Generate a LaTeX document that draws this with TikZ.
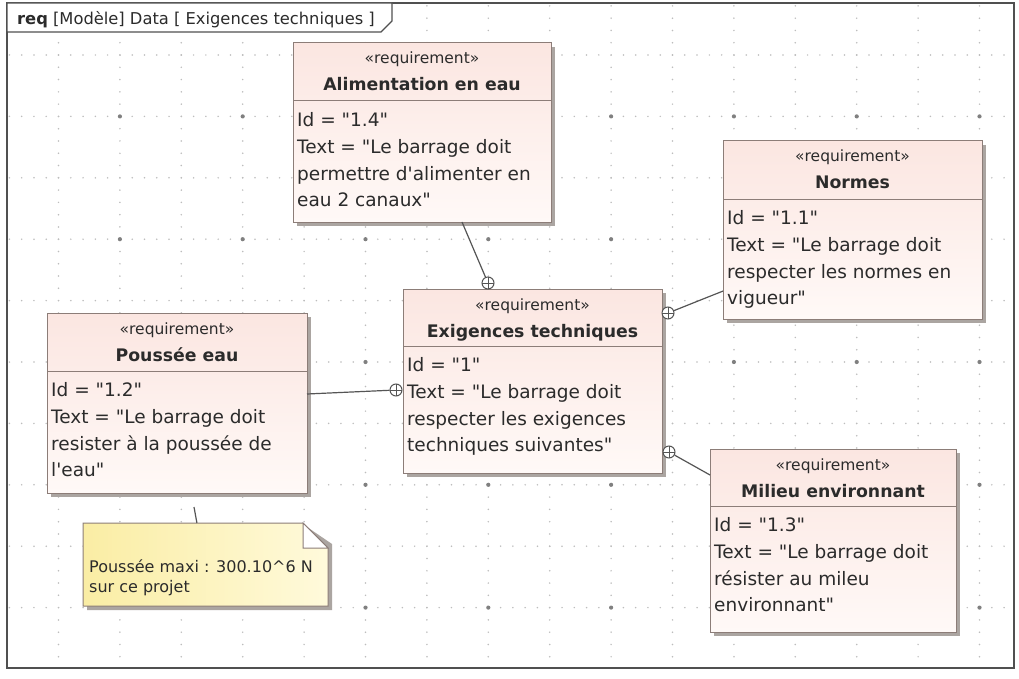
\documentclass[tikz,border=0pt]{standalone}
\usepackage{fontspec}
\setmainfont{DejaVu Sans}
\newfontfamily\dvs{DejaVu Sans}
\usetikzlibrary{calc}
\definecolor{txt}{HTML}{2B2B2B}
\definecolor{bord}{HTML}{8C7D78}
\definecolor{shad}{HTML}{ABA5A1}
\definecolor{rtop}{HTML}{FBE6E1}
\definecolor{rbot}{HTML}{FFF9F7}
\definecolor{ntl}{HTML}{FAEDA4}
\definecolor{ntr}{HTML}{FFFADB}
\definecolor{gridc}{HTML}{BDBDBD}
\definecolor{bigdot}{HTML}{808080}
\definecolor{conc}{HTML}{555555}
\definecolor{framec}{HTML}{505050}
\tikzset{
  reqshape/.style={rectangle, draw=bord, line width=1pt, top color=rtop, bottom color=rbot, inner sep=0pt, outer sep=0pt},
  stereo/.style={text=txt, inner sep=0pt, font=\dvs\fontsize{15.5}{18}\selectfont},
  rname/.style={text=txt, inner sep=0pt, font=\dvs\bfseries\fontsize{17.3}{20}\selectfont},
  rbody/.style={text=txt, inner sep=0pt, align=left, font=\dvs\fontsize{18.5}{26.7}\selectfont},
  gridline/.style={gridc, line width=1.7pt, line cap=round, dash pattern=on 0pt off 12.28pt},
  contain/.style={circle, draw=conc, fill=white, line width=1pt, minimum size=12pt, inner sep=0pt,
    path picture={\draw[conc, line width=0.8pt] (path picture bounding box.north) -- (path picture bounding box.south)
      (path picture bounding box.west) -- (path picture bounding box.east);}},
  conn/.style={conc, line width=1.2pt},
  notetxt/.style={text=txt, inner sep=0pt, align=left, font=\dvs\fontsize{16}{20}\selectfont},
}
% #1 name, #2 left, #3 top, #4 right, #5 bottom, #6 divider, #7 title, #8 body
\newcommand{\reqbox}[8]{%
  \fill[shad] ({#2+4},{#3+4}) rectangle ({#4+4},{#5+4});
  \node[reqshape, minimum width={(#4-#2)*1pt}, minimum height={(#5-#3)*1pt}, anchor=north west] (#1) at (#2,#3) {};
  \draw[bord, line width=1pt] (#2,#6) -- (#4,#6);
  \node[stereo, anchor=base] (#1-st) at ({(#2+#4)/2},{#3+21}) {«requirement»};
  \node[rname, anchor=base] (#1-nm) at ({(#2+#4)/2},{#3+48}) {#7};
  \node[rbody, anchor=north west] (#1-bd) at ({#2+4},{#6+10.5}) {\rule{0pt}{15pt}#8};
}
\begin{document}
\begin{tikzpicture}[x=1pt, y=-1pt]
\useasboundingbox (0,0) rectangle (1019,679);
\fill[white] (0,0) rectangle (1019,679);
% grid
\foreach \k in {0,...,9} { \draw[gridline] (9.4,{55+61.4*\k}) -- (1012,{55+61.4*\k}); }
\foreach \k in {0,...,15} { \draw[gridline] ({58.5+61.4*\k},5.9) -- ({58.5+61.4*\k},666); }
\foreach \i in {1,3,...,15} { \foreach \j in {1,3,5,7,9} { \fill[bigdot] ({58.5+61.4*\i},{55+61.4*\j}) circle (2.1); } }
% frame
\draw[framec, line width=1.5pt] (7,3) rectangle (1014,668);
\draw[framec, line width=1.2pt, fill=white] (7,3) -- (392,3) -- (392,21) -- (381,32) -- (7,32) -- cycle;
\node[anchor=base west, inner sep=0pt, text=txt, font=\dvs\fontsize{16.3}{19}\selectfont] (title) at (17,25)
  {\textbf{req} [Modèle] Data [ Exigences techniques ]};
% requirement boxes
\reqbox{alim}{293}{43}{551}{222}{101}{Alimentation en eau}{Id = "1.4"\\Text = "Le barrage doit\\permettre d'alimenter en\\eau 2 canaux"}
\reqbox{norm}{723}{141}{982}{319}{199}{Normes}{Id = "1.1"\\Text = "Le barrage doit\\respecter les normes en\\vigueur"}
\reqbox{exig}{403}{289}{662}{473}{346}{Exigences techniques}{Id = "1"\\Text = "Le barrage doit\\respecter les exigences\\techniques suivantes"}
\reqbox{pous}{47}{313}{307}{493}{371}{Poussée eau}{Id = "1.2"\\Text = "Le barrage doit\\resister à la poussée de\\l'eau"}
\reqbox{mil}{710}{449}{956}{632}{506}{Milieu environnant}{Id = "1.3"\\Text = "Le barrage doit\\résister au mileu\\environnant"}
% note
\node[anchor=north west, minimum width=245pt, minimum height=83pt, inner sep=0pt, outer sep=0pt] (note) at (83,523) {};
\fill[shad] ([xshift=4pt,yshift=-4pt]note.north west) -- ([xshift=-21pt,yshift=-4pt]note.north east) -- ([xshift=4pt,yshift=-21pt]note.north east) -- ([xshift=4pt,yshift=-4pt]note.south east) -- ([xshift=4pt,yshift=-4pt]note.south west) -- cycle;
\draw[bord, line width=1pt, left color=ntl, right color=ntr] (note.north west) -- ([xshift=-25pt]note.north east) -- ([yshift=-25pt]note.north east) -- (note.south east) -- (note.south west) -- cycle;
\draw[bord, line width=1pt, fill=white] ([xshift=-25pt]note.north east) |- ([yshift=-25pt]note.north east) -- cycle;
\node[notetxt, anchor=north west] (notet) at (89,559) {\rule{0pt}{13pt}Poussée maxi : 300.10\textasciicircum 6 N\\sur ce projet};
% containment connectors
\node[contain] (c1) at (488,283) {};
\node[contain] (c2) at (668,313) {};
\node[contain] (c3) at (396,390) {};
\node[contain] (c4) at (669,452) {};
\draw[conn] ($(alim.south west)!0.655!(alim.south east)$) -- (c1);
\draw[conn] ($(norm.north west)!0.843!(norm.south west)$) -- (c2);
\draw[conn] ($(pous.north east)!0.45!(pous.south east)$) -- (c3);
\draw[conn] ($(mil.north west)!0.142!(mil.south west)$) -- (c4);
% note anchor
\coordinate (nl) at (194,507);
\draw[conn] (nl) -- ($(note.north west)!0.465!(note.north east)$);
\end{tikzpicture}
\end{document}
